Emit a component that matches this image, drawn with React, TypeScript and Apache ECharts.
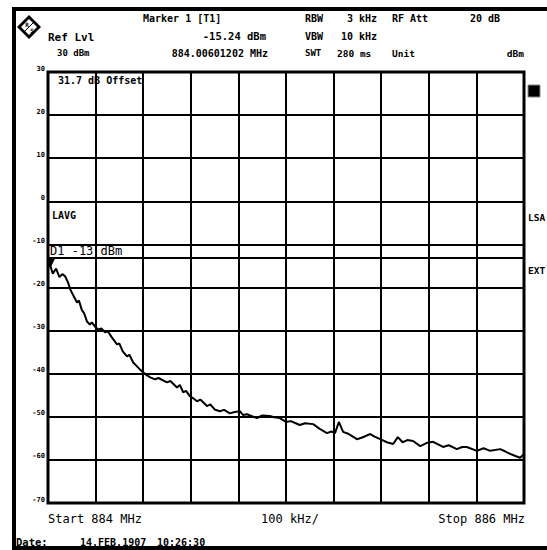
import React, { useEffect, useRef } from "react";
import * as echarts from "echarts";

const freqKHz = [0, 4, 10, 17, 24, 30, 36, 42, 47, 53, 61, 65, 71, 76, 82, 88, 92, 99, 106, 112, 120, 126, 133, 145, 150, 157, 166, 171, 179, 187, 194, 200, 208, 216, 225, 232, 250, 257, 271, 277, 284, 290, 298, 305, 313, 320, 334, 341, 350, 361, 370, 382, 392, 403, 410, 418, 439, 450, 466, 475, 487, 500, 510, 529, 540, 557, 571, 586, 595, 603, 611, 620, 632, 649, 660, 677, 686, 698, 712, 725, 735, 745, 755, 767, 782, 795, 809, 830, 842, 859, 870, 880, 901, 915, 929, 950, 960, 971, 982, 992, 1000];
const levelDbm = [-15.3, -14.6, -16.8, -15.6, -17.6, -16.9, -17.4, -18.8, -20.5, -21.8, -23.5, -23.0, -25.2, -26.0, -27.9, -28.6, -28.1, -29.1, -29.8, -29.5, -30.4, -30.2, -31.4, -33.2, -33.0, -34.8, -36.0, -35.6, -37.4, -38.3, -39.1, -39.7, -40.4, -40.9, -41.3, -41.0, -42.0, -41.7, -43.2, -42.6, -44.3, -44.0, -45.2, -45.7, -46.4, -46.0, -47.5, -47.1, -48.3, -48.7, -48.4, -49.2, -48.9, -48.7, -49.6, -49.4, -50.3, -49.7, -49.8, -50.1, -50.3, -51.2, -51.0, -51.9, -51.5, -51.7, -52.8, -53.8, -53.4, -53.8, -51.2, -53.5, -54.0, -55.2, -54.8, -54.0, -54.6, -55.2, -55.9, -56.3, -54.7, -55.9, -55.4, -55.6, -56.8, -56.1, -55.8, -57.0, -56.6, -57.5, -57.0, -57.0, -57.9, -57.3, -57.9, -57.5, -58.0, -58.6, -59.1, -59.5, -58.6];

const yTicks = [30, 20, 10, 0, -10, -20, -30, -40, -50, -60, -70];
const displayLine = -13;
const markerKHz = 6;
const markerLevel = -15.24;

const FONT = "DejaVu Sans Mono";

function txt(text: string, x: number, y: number, align = "left", size = 10, weight: any = "bold") {
  return {
    type: "text",
    x,
    y,
    silent: true,
    z: 100,
    style: {
      text,
      fill: "#000",
      font: `${weight} ${size}px "${FONT}"`,
      align,
      verticalAlign: "middle",
    },
  };
}

export default function App() {
  const ref = useRef<HTMLDivElement>(null);
  useEffect(() => {
    document.body.style.margin = "0";
    const chart = echarts.init(ref.current!, null, { renderer: "svg" });
    const data = freqKHz.map((f, i) => [f, levelDbm[i]]);
    chart.setOption({
      animation: false,
      backgroundColor: "#fff",
      grid: { left: 48, right: 23, top: 72, bottom: 47, containLabel: false },
      xAxis: {
        type: "value",
        min: 0,
        max: 1000,
        interval: 100,
        axisLine: { show: false },
        axisTick: { show: false },
        axisLabel: { show: false },
        splitLine: { show: true, lineStyle: { color: "#000", width: 2 } },
      },
      yAxis: {
        type: "value",
        min: -70,
        max: 30,
        interval: 10,
        axisLine: { show: false },
        axisTick: { show: false },
        axisLabel: {
          show: true,
          color: "#000",
          fontSize: 7,
          fontWeight: "bold",
          fontFamily: FONT,
          margin: 3,
          verticalAlign: "bottom",
          formatter: (v: number) => (yTicks.includes(v) ? String(v) : ""),
        },
        splitLine: { show: true, lineStyle: { color: "#000", width: 2 } },
      },
      series: [
        {
          type: "line",
          data,
          showSymbol: false,
          symbol: "none",
          lineStyle: { color: "#000", width: 2 },
          z: 5,
          markLine: {
            silent: true,
            symbol: "none",
            label: { show: false },
            lineStyle: { color: "#000", width: 2, type: "solid" },
            data: [{ yAxis: displayLine }],
          },
          markPoint: {
            silent: true,
            symbol: "triangle",
            symbolSize: [8, 8],
            symbolRotate: 180,
            symbolOffset: [0, -4],
            itemStyle: { color: "#000" },
            label: { show: false },
            data: [{ coord: [markerKHz, markerLevel] }],
          },
        },
      ],
      graphic: [
        {
          type: "rect",
          silent: true,
          shape: { x: 14, y: 9, width: 560, height: 539 },
          style: { fill: "none", stroke: "#000", lineWidth: 4 },
        },
        {
          type: "rect",
          silent: true,
          z: 50,
          shape: { x: 48, y: 72, width: 476, height: 431 },
          style: { fill: "none", stroke: "#000", lineWidth: 3 },
        },
        {
          type: "polygon",
          silent: true,
          shape: { points: [[29, 15], [41, 27], [29, 39], [17, 27]] },
          style: { fill: "#000" },
        },
        {
          type: "polygon",
          silent: true,
          shape: { points: [[29, 19], [37, 27], [29, 35], [21, 27]] },
          style: { fill: "#fff" },
        },
        {
          type: "line",
          silent: true,
          shape: { x1: 24, y1: 32, x2: 34, y2: 22 },
          style: { stroke: "#000", lineWidth: 1 },
        },
        txt("R", 27, 24, "center", 6),
        txt("S", 32, 30, "center", 6),
        txt("Ref Lvl", 48, 37, "left", 11),
        txt("30 dBm", 57, 53, "left", 9),
        txt("Marker 1 [T1]", 143, 18, "left", 10),
        txt("-15.24 dBm", 266, 36, "right", 10.5),
        txt("884.00601202 MHz", 268, 53, "right", 10),
        txt("RBW", 305, 18, "left", 10),
        txt("VBW", 305, 36, "left", 10),
        txt("SWT", 305, 53, "left", 9),
        txt("3 kHz", 377, 18, "right", 10),
        txt("10 kHz", 377, 36, "right", 10),
        txt("280 ms", 337, 53, "left", 9.5),
        txt("RF Att", 392, 18, "left", 10),
        txt("20 dB", 470, 18, "left", 10),
        txt("Unit", 392, 53, "left", 9.5),
        txt("dBm", 524, 53, "right", 9.5),
        txt("31.7 dB Offset", 58, 80, "left", 10),
        txt("LAVG", 52, 215, "left", 10),
        txt("D1 -13 dBm", 50, 251, "left", 12, "normal"),
        {
          type: "rect",
          silent: true,
          shape: { x: 528, y: 85, width: 12, height: 12 },
          style: { fill: "#000", stroke: "#888", lineWidth: 1 },
        },
        txt("LSA", 528, 217, "left", 9.5),
        txt("EXT", 528, 270, "left", 9.5),
        txt("Start 884 MHz", 48, 519, "left", 12, "normal"),
        txt("100 kHz/", 290, 519, "center", 12, "normal"),
        txt("Stop 886 MHz", 525, 519, "right", 12, "normal"),
        txt("Date:", 16, 542, "left", 10.5),
        txt("14.FEB.1907", 80, 542, "left", 10),
        txt("10:26:30", 157, 542, "left", 10),
      ],
    });
    return () => chart.dispose();
  }, []);
  return <div ref={ref} style={{ width: 547, height: 550 }} />;
}
